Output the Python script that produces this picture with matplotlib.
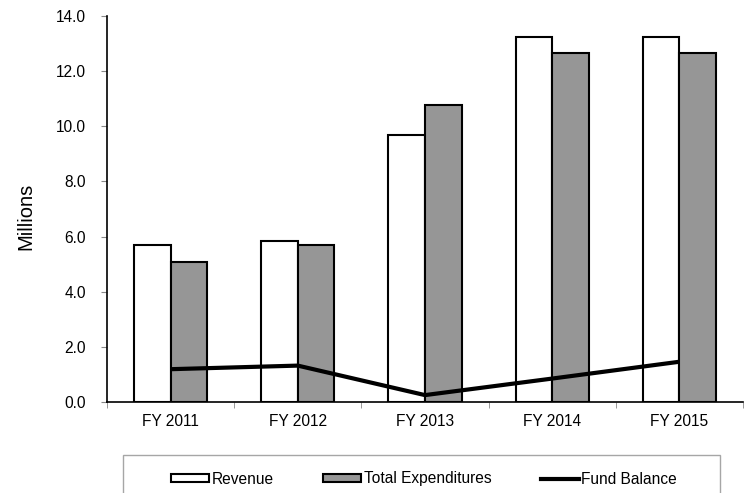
import matplotlib
matplotlib.use("Agg")
import matplotlib.pyplot as plt
from matplotlib.patches import Rectangle, Patch
from matplotlib.lines import Line2D
import numpy as np

plt.rcParams['font.family'] = ['Liberation Sans', 'DejaVu Sans']

categories = ["FY 2011", "FY 2012", "FY 2013", "FY 2014", "FY 2015"]
revenue = [5.69, 5.85, 9.70, 13.25, 13.25]
expenditures = [5.09, 5.71, 10.77, 12.66, 12.66]
fund_balance = [1.19, 1.32, 0.25, 0.85, 1.46]
yticks = [0, 2, 4, 6, 8, 10, 12, 14]

fig = plt.figure(figsize=(7.44, 4.93), dpi=100)
ax = fig.add_axes([107/744, 1-402/493, (743-107)/744, (402-16)/493])

x = np.arange(len(categories))
w = 0.287
ax.bar(x - w/2, revenue, w, color='white', edgecolor='black', linewidth=1.5, zorder=2)
ax.bar(x + w/2, expenditures, w, color='#969696', edgecolor='black', linewidth=1.5, zorder=2)
ax.plot(x, fund_balance, color='black', linewidth=3, zorder=3, solid_capstyle='butt')

ax.set_xlim(-0.5, len(categories) - 0.5)
ax.set_ylim(0, 14)
ax.set_yticks(yticks)
ax.set_yticklabels([f"{v:.1f}" for v in yticks], fontsize=11.2)
ax.set_xticks(x)
ax.set_xticklabels(categories, fontsize=11.2)
ax.set_xticks(np.arange(len(categories) + 1) - 0.5, minor=True)
ax.tick_params(axis='x', which='major', length=0, pad=9)
ax.tick_params(axis='x', which='minor', length=4, direction='out', color='#888888')
ax.tick_params(axis='y', length=4, direction='out', pad=11, color='#888888')
for s in ['top', 'right']:
    ax.spines[s].set_visible(False)
ax.spines['left'].set_linewidth(1.2)
ax.spines['bottom'].set_linewidth(1.2)

fig.text(26/744, 1-216/493, "Millions", rotation=90, ha='center', va='center', fontsize=14.5)

# legend box
fig.patches.append(Rectangle((123/744, -0.05), (720-123)/744, 0.05 + (493-455)/493,
                             transform=fig.transFigure, fill=False, edgecolor='#a6a6a6',
                             linewidth=1.0))
handles = [Patch(facecolor='white', edgecolor='black', linewidth=1.5),
           Patch(facecolor='#969696', edgecolor='black', linewidth=1.5),
           Line2D([0], [0], color='black', linewidth=3)]
fig.legend(handles, ["Revenue", "Total Expenditures", "Fund Balance"],
           loc='center', bbox_to_anchor=(424/744, 1-479/493), ncol=3, frameon=False,
           fontsize=11.2, handlelength=2.45, handleheight=0.5, handletextpad=0.15,
           columnspacing=3.2, borderpad=0)

fig.savefig("out.png", dpi=100)
